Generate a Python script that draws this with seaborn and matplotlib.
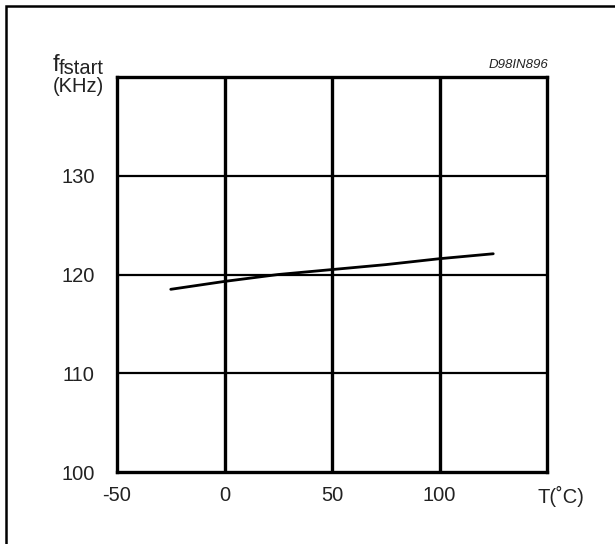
import numpy as np
import pandas as pd
import matplotlib
matplotlib.use('Agg')
import matplotlib.pyplot as plt
import matplotlib.transforms as mtransforms
import seaborn as sns

# donnees
temp_c = [-25, 0, 25, 50, 75, 100, 125]
f_start_khz = [118.5, 119.3, 120.0, 120.5, 121.0, 121.6, 122.1]
x_ticks = [-50, 0, 50, 100, 150]
x_labels = ['-50', '0', '50', '100', 'T(\u02daC)']
y_ticks = [100, 110, 120, 130]

sns.set_style('white')
plt.rcParams['font.family'] = ['Liberation Sans', 'DejaVu Sans']

fig = plt.figure(figsize=(6.15, 5.44), dpi=100)

# cadre exterieur
fig.add_artist(plt.Rectangle((6 / 615, -0.1), 1.2, 1 - 6 / 544 + 0.1,
                             transform=fig.transFigure, fill=False,
                             edgecolor='black', linewidth=1.8))

ax = fig.add_axes([117 / 615, 1 - 472 / 544, 430 / 615, 395 / 544])
df = pd.DataFrame({'T': temp_c, 'f': f_start_khz})
sns.lineplot(data=df, x='T', y='f', ax=ax, color='black', linewidth=2.0)

ax.set_xlim(-50, 150)
ax.set_ylim(100, 140)
ax.set_xticks(x_ticks)
ax.set_yticks(y_ticks)
ax.set_xticklabels(x_labels)
ax.set_yticklabels([str(v) for v in y_ticks])
ax.tick_params(axis='x', length=0, pad=10, labelsize=14.5, labelcolor='#222222')
ax.tick_params(axis='y', length=0, pad=16, labelsize=14.5, labelcolor='#222222')
ax.set_xlabel('')
ax.set_ylabel('')

# decaler l'unite vers la droite
lab = ax.get_xticklabels()[-1]
lab.set_transform(lab.get_transform() +
                  mtransforms.ScaledTranslation(14 / 100, 0, fig.dpi_scale_trans))

# grille
for xv in x_ticks[1:-1]:
    ax.axvline(xv, color='black', linewidth=2.4, zorder=1)
for yv in y_ticks[1:]:
    ax.axhline(yv, color='black', linewidth=1.6, zorder=1)
for s in ax.spines.values():
    s.set_color('black')
    s.set_linewidth(2.4)

# etiquettes axe y : f + indice fstart
fig.text(53 / 615, 1 - 71 / 544, 'f', ha='left', va='baseline',
         fontsize=17, color='#222222')
fig.text(59 / 615, 1 - 74 / 544, 'fstart', ha='left', va='baseline',
         fontsize=14.5, color='#222222')
fig.text(78 / 615, 1 - 86 / 544, '(KHz)', ha='center', va='center',
         fontsize=14.5, color='#222222')
fig.text(548 / 615, 1 - 65 / 544, 'D98IN896', ha='right', va='center',
         fontsize=9.5, style='italic', color='#222222')

plt.savefig('out.png', dpi=100)
plt.close()
